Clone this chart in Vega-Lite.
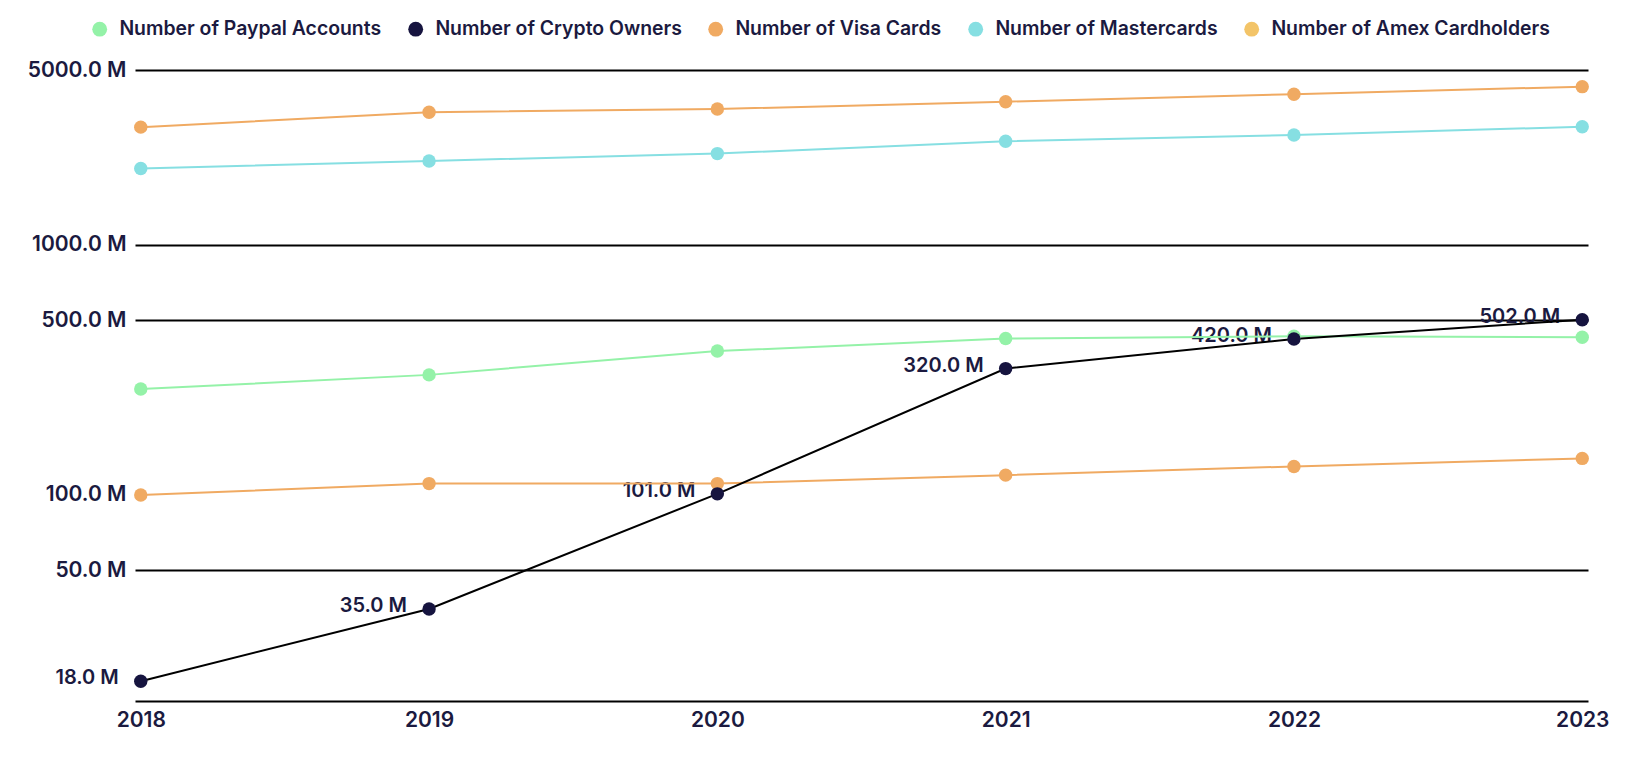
{
  "$schema": "https://vega.github.io/schema/vega-lite/v6.json",
  "width": 1453,
  "height": 631,
  "autosize": {"type": "none"},
  "padding": {"left": 135, "top": 70, "right": 38, "bottom": 59},
  "background": "white",
  "config": {
    "font": "Inter",
    "view": {"stroke": null}
  },
  "data": {
    "values": [
      {"year": "2018", "series": "Number of Paypal Accounts", "value": 265},
      {"year": "2019", "series": "Number of Paypal Accounts", "value": 302},
      {"year": "2020", "series": "Number of Paypal Accounts", "value": 376},
      {"year": "2021", "series": "Number of Paypal Accounts", "value": 422},
      {"year": "2022", "series": "Number of Paypal Accounts", "value": 431},
      {"year": "2023", "series": "Number of Paypal Accounts", "value": 427},
      {"year": "2018", "series": "Number of Visa Cards", "value": 2955},
      {"year": "2019", "series": "Number of Visa Cards", "value": 3390},
      {"year": "2020", "series": "Number of Visa Cards", "value": 3490},
      {"year": "2021", "series": "Number of Visa Cards", "value": 3735},
      {"year": "2022", "series": "Number of Visa Cards", "value": 4000},
      {"year": "2023", "series": "Number of Visa Cards", "value": 4290},
      {"year": "2018", "series": "Number of Mastercards", "value": 2018},
      {"year": "2019", "series": "Number of Mastercards", "value": 2165},
      {"year": "2020", "series": "Number of Mastercards", "value": 2316},
      {"year": "2021", "series": "Number of Mastercards", "value": 2594},
      {"year": "2022", "series": "Number of Mastercards", "value": 2748},
      {"year": "2023", "series": "Number of Mastercards", "value": 2965},
      {"year": "2018", "series": "Number of Amex Cardholders", "value": 100},
      {"year": "2019", "series": "Number of Amex Cardholders", "value": 111},
      {"year": "2020", "series": "Number of Amex Cardholders", "value": 111},
      {"year": "2021", "series": "Number of Amex Cardholders", "value": 120},
      {"year": "2022", "series": "Number of Amex Cardholders", "value": 130},
      {"year": "2023", "series": "Number of Amex Cardholders", "value": 140},
      {"year": "2018", "series": "Number of Crypto Owners", "value": 18},
      {"year": "2019", "series": "Number of Crypto Owners", "value": 35},
      {"year": "2020", "series": "Number of Crypto Owners", "value": 101},
      {"year": "2021", "series": "Number of Crypto Owners", "value": 320},
      {"year": "2022", "series": "Number of Crypto Owners", "value": 420},
      {"year": "2023", "series": "Number of Crypto Owners", "value": 502}
    ]
  },
  "encoding": {
    "x": {
      "field": "year",
      "type": "ordinal",
      "scale": {"type": "point", "padding": 0.02},
      "axis": {
        "title": null,
        "labelAngle": 0,
        "ticks": false,
        "domain": true,
        "domainColor": "#000000",
        "domainWidth": 2,
        "labelFontSize": 21,
        "labelFontWeight": 600,
        "labelColor": "#1b1a40",
        "labelPadding": 8,
        "grid": false
      }
    },
    "y": {
      "field": "value",
      "type": "quantitative",
      "scale": {"type": "log", "domain": [15, 5000], "nice": false},
      "axis": {
        "title": null,
        "values": [50, 100, 500, 1000, 5000],
        "labelExpr": "format(datum.value, '.1f') + ' M'",
        "grid": true,
        "gridColor": "#000000",
        "gridWidth": 2,
        "gridOpacity": {"condition": {"test": "datum.value === 100", "value": 0}, "value": 1},
        "domain": false,
        "ticks": false,
        "labelFontSize": 21,
        "labelFontWeight": 600,
        "labelColor": "#1b1a40",
        "labelPadding": 9
      }
    }
  },
  "layer": [
    {
      "transform": [
        {"filter": "datum.series === 'Number of Crypto Owners'"},
        {"calculate": "format(datum.value, '.1f') + ' M'", "as": "label"}
      ],
      "mark": {
        "type": "text",
        "align": "right",
        "baseline": "middle",
        "dx": -22,
        "dy": -3,
        "fontSize": 20,
        "fontWeight": 600,
        "color": "#1b1a40"
      },
      "encoding": {"text": {"field": "label"}}
    },
    {
      "mark": {"type": "line", "strokeWidth": 2},
      "encoding": {
        "color": {
          "condition": [
            {"test": "datum.series === 'Number of Amex Cardholders'", "value": "#f0aa62"},
            {"test": "datum.series === 'Number of Crypto Owners'", "value": "#000000"}
          ],
          "field": "series",
          "type": "nominal",
          "scale": {
            "domain": ["Number of Paypal Accounts", "Number of Crypto Owners", "Number of Visa Cards", "Number of Mastercards", "Number of Amex Cardholders"],
            "range": ["#94f2a8", "#16143f", "#f0aa62", "#86dfe2", "#f3c468"]
          },
          "legend": {
            "title": null,
            "orient": "none",
            "direction": "horizontal",
            "legendX": -45,
            "legendY": -51,
            "symbolType": "circle",
            "symbolSize": 220,
            "symbolStrokeWidth": 0,
            "symbolOpacity": 1,
            "labelFontSize": 19.4,
            "labelFontWeight": 600,
            "labelColor": "#1b1a40",
            "labelOffset": 10,
            "columnPadding": 24,
            "labelLimit": 400
          }
        }
      }
    },
    {
      "mark": {"type": "circle", "size": 180, "opacity": 1},
      "encoding": {
        "color": {
          "condition": {"test": "datum.series === 'Number of Amex Cardholders'", "value": "#f0aa62"},
          "field": "series",
          "type": "nominal"
        }
      }
    }
  ]
}
